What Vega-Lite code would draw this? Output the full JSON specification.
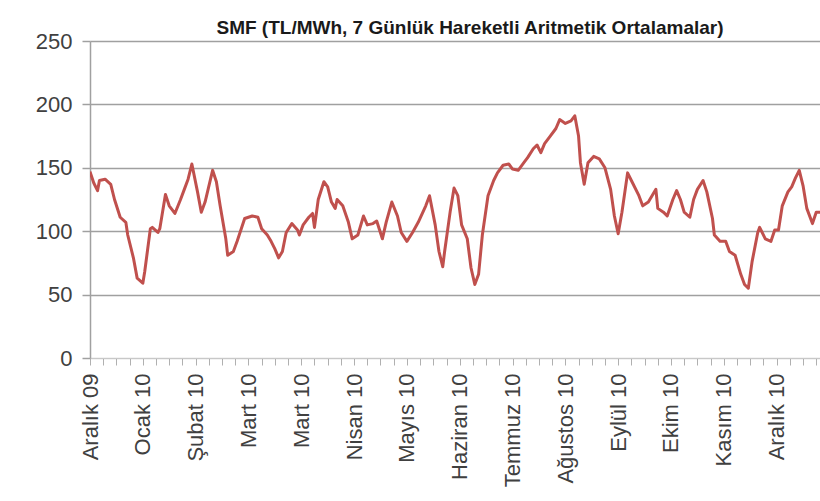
{
  "$schema": "https://vega.github.io/schema/vega-lite/v6.json",
  "width": 730,
  "height": 317,
  "autosize": {"type": "none"},
  "padding": {"left": 90, "top": 41, "right": 0, "bottom": 143},
  "background": "white",
  "title": {
    "text": "SMF (TL/MWh, 7 Günlük Hareketli Aritmetik Ortalamalar)",
    "font": "Liberation Sans",
    "fontSize": 19,
    "fontWeight": "bold",
    "color": "#1a1a1a",
    "anchor": "middle",
    "offset": 6,
    "dx": 15,
    "dy": 14
  },
  "data": {
    "values": [
      {"date": "2009-12-07", "smf": 147},
      {"date": "2009-12-09", "smf": 138},
      {"date": "2009-12-11", "smf": 132},
      {"date": "2009-12-12", "smf": 140},
      {"date": "2009-12-15", "smf": 141},
      {"date": "2009-12-18", "smf": 137},
      {"date": "2009-12-20", "smf": 125},
      {"date": "2009-12-23", "smf": 111},
      {"date": "2009-12-26", "smf": 107},
      {"date": "2009-12-27", "smf": 97},
      {"date": "2009-12-30", "smf": 79},
      {"date": "2010-01-01", "smf": 63},
      {"date": "2010-01-04", "smf": 59},
      {"date": "2010-01-05", "smf": 68},
      {"date": "2010-01-08", "smf": 102},
      {"date": "2010-01-09", "smf": 103},
      {"date": "2010-01-12", "smf": 99},
      {"date": "2010-01-13", "smf": 102},
      {"date": "2010-01-16", "smf": 129},
      {"date": "2010-01-18", "smf": 120},
      {"date": "2010-01-21", "smf": 114},
      {"date": "2010-01-24", "smf": 125},
      {"date": "2010-01-26", "smf": 133},
      {"date": "2010-01-28", "smf": 141},
      {"date": "2010-01-30", "smf": 153},
      {"date": "2010-02-02", "smf": 131},
      {"date": "2010-02-04", "smf": 115},
      {"date": "2010-02-06", "smf": 123},
      {"date": "2010-02-10", "smf": 148},
      {"date": "2010-02-12", "smf": 139},
      {"date": "2010-02-14", "smf": 120},
      {"date": "2010-02-17", "smf": 94},
      {"date": "2010-02-18", "smf": 81},
      {"date": "2010-02-21", "smf": 84},
      {"date": "2010-02-23", "smf": 92},
      {"date": "2010-02-27", "smf": 110},
      {"date": "2010-03-03", "smf": 112},
      {"date": "2010-03-06", "smf": 111},
      {"date": "2010-03-08", "smf": 102},
      {"date": "2010-03-11", "smf": 97},
      {"date": "2010-03-13", "smf": 92},
      {"date": "2010-03-15", "smf": 86},
      {"date": "2010-03-17", "smf": 79},
      {"date": "2010-03-19", "smf": 84},
      {"date": "2010-03-21", "smf": 99},
      {"date": "2010-03-24", "smf": 106},
      {"date": "2010-03-27", "smf": 101},
      {"date": "2010-03-28", "smf": 97},
      {"date": "2010-03-30", "smf": 105},
      {"date": "2010-04-02", "smf": 111},
      {"date": "2010-04-04", "smf": 114},
      {"date": "2010-04-05", "smf": 103},
      {"date": "2010-04-07", "smf": 125},
      {"date": "2010-04-10", "smf": 139},
      {"date": "2010-04-12", "smf": 135},
      {"date": "2010-04-14", "smf": 123},
      {"date": "2010-04-16", "smf": 118},
      {"date": "2010-04-17", "smf": 125},
      {"date": "2010-04-20", "smf": 120},
      {"date": "2010-04-23", "smf": 107},
      {"date": "2010-04-25", "smf": 94},
      {"date": "2010-04-28", "smf": 97},
      {"date": "2010-04-29", "smf": 102},
      {"date": "2010-05-01", "smf": 112},
      {"date": "2010-05-03", "smf": 105},
      {"date": "2010-05-06", "smf": 106},
      {"date": "2010-05-08", "smf": 108},
      {"date": "2010-05-11", "smf": 94},
      {"date": "2010-05-13", "smf": 107},
      {"date": "2010-05-16", "smf": 123},
      {"date": "2010-05-19", "smf": 112},
      {"date": "2010-05-21", "smf": 99},
      {"date": "2010-05-24", "smf": 92},
      {"date": "2010-05-27", "smf": 99},
      {"date": "2010-05-30", "smf": 107},
      {"date": "2010-06-03", "smf": 120},
      {"date": "2010-06-05", "smf": 128},
      {"date": "2010-06-08", "smf": 105},
      {"date": "2010-06-10", "smf": 84},
      {"date": "2010-06-12", "smf": 72},
      {"date": "2010-06-13", "smf": 84},
      {"date": "2010-06-16", "smf": 116},
      {"date": "2010-06-18", "smf": 134},
      {"date": "2010-06-20", "smf": 128},
      {"date": "2010-06-22", "smf": 105},
      {"date": "2010-06-25", "smf": 94},
      {"date": "2010-06-27", "smf": 71},
      {"date": "2010-06-29", "smf": 58},
      {"date": "2010-07-01", "smf": 66},
      {"date": "2010-07-03", "smf": 97},
      {"date": "2010-07-06", "smf": 128},
      {"date": "2010-07-09", "smf": 140},
      {"date": "2010-07-11", "smf": 146},
      {"date": "2010-07-14", "smf": 152},
      {"date": "2010-07-17", "smf": 153},
      {"date": "2010-07-19", "smf": 149},
      {"date": "2010-07-22", "smf": 148},
      {"date": "2010-07-25", "smf": 154},
      {"date": "2010-07-27", "smf": 158},
      {"date": "2010-07-30", "smf": 165},
      {"date": "2010-08-01", "smf": 168},
      {"date": "2010-08-03", "smf": 162},
      {"date": "2010-08-05", "smf": 169},
      {"date": "2010-08-08", "smf": 175},
      {"date": "2010-08-11", "smf": 181},
      {"date": "2010-08-13", "smf": 188},
      {"date": "2010-08-16", "smf": 185},
      {"date": "2010-08-19", "smf": 187},
      {"date": "2010-08-21", "smf": 191},
      {"date": "2010-08-23", "smf": 175},
      {"date": "2010-08-24", "smf": 154},
      {"date": "2010-08-26", "smf": 137},
      {"date": "2010-08-28", "smf": 154},
      {"date": "2010-08-31", "smf": 159},
      {"date": "2010-09-03", "smf": 157},
      {"date": "2010-09-06", "smf": 150},
      {"date": "2010-09-09", "smf": 133},
      {"date": "2010-09-11", "smf": 112},
      {"date": "2010-09-13", "smf": 98},
      {"date": "2010-09-15", "smf": 115},
      {"date": "2010-09-18", "smf": 146},
      {"date": "2010-09-20", "smf": 140},
      {"date": "2010-09-24", "smf": 128},
      {"date": "2010-09-26", "smf": 120},
      {"date": "2010-09-29", "smf": 123},
      {"date": "2010-10-03", "smf": 133},
      {"date": "2010-10-04", "smf": 118},
      {"date": "2010-10-07", "smf": 115},
      {"date": "2010-10-09", "smf": 112},
      {"date": "2010-10-12", "smf": 125},
      {"date": "2010-10-14", "smf": 132},
      {"date": "2010-10-16", "smf": 125},
      {"date": "2010-10-18", "smf": 115},
      {"date": "2010-10-21", "smf": 111},
      {"date": "2010-10-23", "smf": 125},
      {"date": "2010-10-25", "smf": 133},
      {"date": "2010-10-28", "smf": 140},
      {"date": "2010-10-30", "smf": 131},
      {"date": "2010-11-02", "smf": 110},
      {"date": "2010-11-03", "smf": 97},
      {"date": "2010-11-06", "smf": 92},
      {"date": "2010-11-09", "smf": 92},
      {"date": "2010-11-11", "smf": 84},
      {"date": "2010-11-14", "smf": 81},
      {"date": "2010-11-17", "smf": 66},
      {"date": "2010-11-19", "smf": 58},
      {"date": "2010-11-21", "smf": 55},
      {"date": "2010-11-23", "smf": 76},
      {"date": "2010-11-26", "smf": 99},
      {"date": "2010-11-27", "smf": 103},
      {"date": "2010-11-30", "smf": 94},
      {"date": "2010-12-03", "smf": 92},
      {"date": "2010-12-05", "smf": 101},
      {"date": "2010-12-07", "smf": 101},
      {"date": "2010-12-09", "smf": 120},
      {"date": "2010-12-12", "smf": 131},
      {"date": "2010-12-14", "smf": 135},
      {"date": "2010-12-16", "smf": 142},
      {"date": "2010-12-18", "smf": 148},
      {"date": "2010-12-20", "smf": 136},
      {"date": "2010-12-22", "smf": 118},
      {"date": "2010-12-25", "smf": 106},
      {"date": "2010-12-27", "smf": 115},
      {"date": "2010-12-29", "smf": 115}
    ]
  },
  "mark": {"type": "line", "color": "#c0504d", "strokeWidth": 3, "strokeJoin": "round", "clip": true},
  "encoding": {
    "x": {
      "field": "date",
      "type": "temporal",
      "scale": {"type": "utc", "domain": [1260144000000, 1293580800000]},
      "axis": {
        "title": null,
        "values": [1260144000000, 1260748800000, 1261353600000, 1261958400000, 1262563200000, 1263168000000, 1263772800000, 1264377600000, 1264982400000, 1265587200000, 1266192000000, 1266796800000, 1267401600000, 1268006400000, 1268611200000, 1269216000000, 1269820800000, 1270425600000, 1271030400000, 1271635200000, 1272240000000, 1272844800000, 1273449600000, 1274054400000, 1274659200000, 1275264000000, 1275868800000, 1276473600000, 1277078400000, 1277683200000, 1278288000000, 1278892800000, 1279497600000, 1280102400000, 1280707200000, 1281312000000, 1281916800000, 1282521600000, 1283126400000, 1283731200000, 1284336000000, 1284940800000, 1285545600000, 1286150400000, 1286755200000, 1287360000000, 1287964800000, 1288569600000, 1289174400000, 1289779200000, 1290384000000, 1290988800000, 1291593600000, 1292198400000, 1292803200000, 1293408000000],
        "labelExpr": "round((datum.value - 1260144000000) / 86400000) % 28 === 0 ? ['Ocak','Şubat','Mart','Nisan','Mayıs','Haziran','Temmuz','Ağustos','Eylül','Ekim','Kasım','Aralık'][utcmonth(datum.value)] + ' ' + utcFormat(datum.value, '%y') : ''",
        "labelAngle": 270,
        "labelAlign": "right",
        "labelBaseline": "middle",
        "labelFont": "Liberation Sans",
        "labelFontSize": 22,
        "labelColor": "#404040",
        "labelPadding": 8,
        "labelOverlap": false,
        "labelFlush": false,
        "labelBound": false,
        "tickSize": 7,
        "tickColor": "#b0b0b0",
        "domainColor": "#c8c8c8",
        "grid": false
      }
    },
    "y": {
      "field": "smf",
      "type": "quantitative",
      "scale": {"domain": [0, 250]},
      "axis": {
        "title": null,
        "values": [0, 50, 100, 150, 200, 250],
        "labelFont": "Liberation Sans",
        "labelFontSize": 22,
        "labelColor": "#404040",
        "labelPadding": 10,
        "labelFlush": false,
        "tickSize": 8,
        "tickColor": "#a0a0a0",
        "tickWidth": 1.5,
        "domainColor": "#a0a0a0",
        "domainWidth": 1.5,
        "grid": true,
        "gridColor": {"condition": {"test": "datum.value === 0", "value": "#d0d0d0"}, "value": "#a0a0a0"},
        "gridWidth": 1.5
      }
    }
  },
  "config": {"view": {"stroke": null}}
}
